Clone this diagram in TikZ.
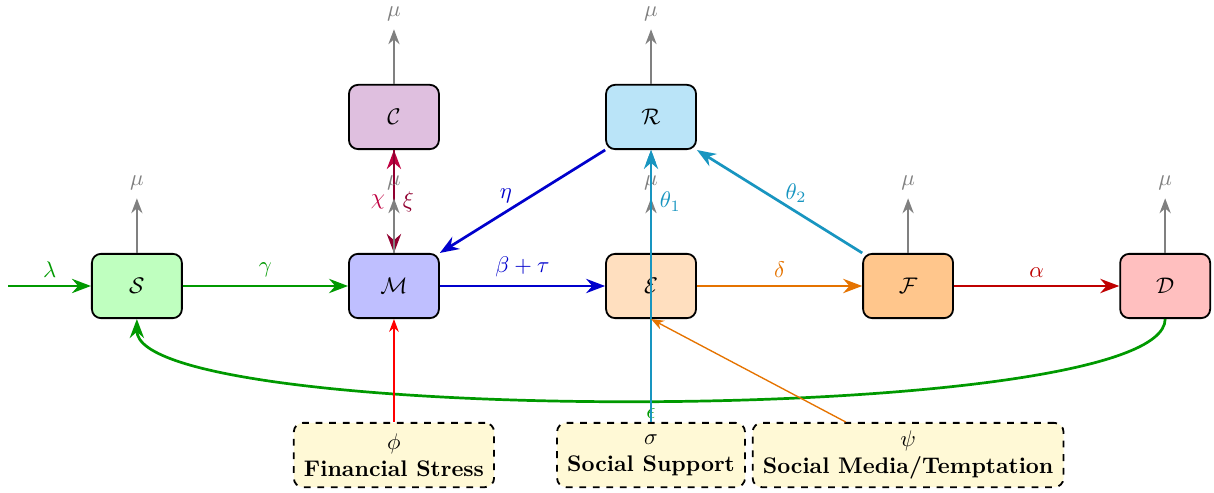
\documentclass[tikz,border=0pt]{standalone}
\usepackage{amsmath}
\usepackage{xcolor}
\usetikzlibrary{positioning,arrows.meta,shapes}
\definecolor{recov}{HTML}{1895C0}
\definecolor{recovfill}{HTML}{BAE4F8}
\definecolor{factorfill}{HTML}{FFF9D6}

\begin{document}
\begin{tikzpicture}[>=Stealth,
		comp/.style={draw, thick, rounded corners, minimum width=1.4cm, minimum height=1cm},
		factor/.style={draw, thick, dashed, rounded corners, fill=factorfill, minimum height=1cm, inner xsep=4.5pt, inner ysep=2pt, align=center},
		flow/.style={->, very thick},
		death/.style={->, thick, gray},
		push/.style={->, semithick}]
				\useasboundingbox (-2.13,-3.22) rectangle (16.76,4.45);
				\node[comp, fill=green!25] (S) at (0,0) {$\mathcal{S}$};
				\node[comp, fill=blue!25] (M) at (4,0) {$\mathcal{M}$};
				\node[comp, fill=orange!25] (E) at (8,0) {$\mathcal{E}$};
				\node[comp, fill=orange!45] (F) at (12,0) {$\mathcal{F}$};
				\node[comp, fill=red!25] (D) at (16,0) {$\mathcal{D}$};
				\node[comp, fill=violet!25] (C) at (4,2.63) {$\mathcal{C}$};
				\node[comp, fill=recovfill] (R) at (8,2.63) {$\mathcal{R}$};
				\node[factor] (phi) at (4,-2.63) {$\phi$\\\textbf{Financial Stress}};
				\node[factor] (sigma) at (8,-2.63) {$\sigma$\\\textbf{Social Support}};
				\node[factor] (psi) at (12,-2.63) {$\psi$\\\textbf{Social Media/Temptation}};
				\coordinate (in) at (-2,0);
				\draw[flow, green!60!black] (in) -- (S) node[midway, above] (lam) {$\lambda$};
				\draw[flow, green!60!black] (S) -- (M) node[midway, above] (gam) {$\gamma$};
				\draw[flow, blue!80!black] (M) -- (E) node[midway, above] (bet) {$\beta+\tau$};
				\draw[flow, orange!90!black] (E) -- (F) node[midway, above] (del) {$\delta$};
				\draw[flow, red!75!black] (F) -- (D) node[midway, above] (alp) {$\alpha$};
				\draw[flow, purple] (M) -- (C) node[midway, left] (chi) {$\chi$};
				\draw[flow, purple!75!black] (C) -- (M) node[midway, right] (xi) {$\xi$};
				\draw[flow, blue!80!black] (R.south west) -- (M.north east) node[pos=0.6, above] (eta) {$\eta$};
				\draw[flow, recov] (E) -- (R) node[midway, right] (th1) {$\theta_1$};
				\draw[flow, recov] (F.north west) -- (R.south east) node[pos=0.4, above] (th2) {$\theta_2$};
				\draw[flow, green!60!black] (D.south) to[out=-90, in=-90, looseness=0.27] node[below] (eps) {$\epsilon$} (S.south);
				\foreach \n in {S,M,E,F,D,C,R} {
					\coordinate (top\n) at ([yshift=0.85cm]\n.north);
					\draw[death] (\n) -- (top\n) node[above] (mu\n) {$\mu$};
				}
				\draw[push, red] (phi) -- (M);
				\draw[push, recov] (sigma) -- (R);
				\draw[push, orange!90!black] (psi) -- (E.south);
			\end{tikzpicture}
\end{document}
